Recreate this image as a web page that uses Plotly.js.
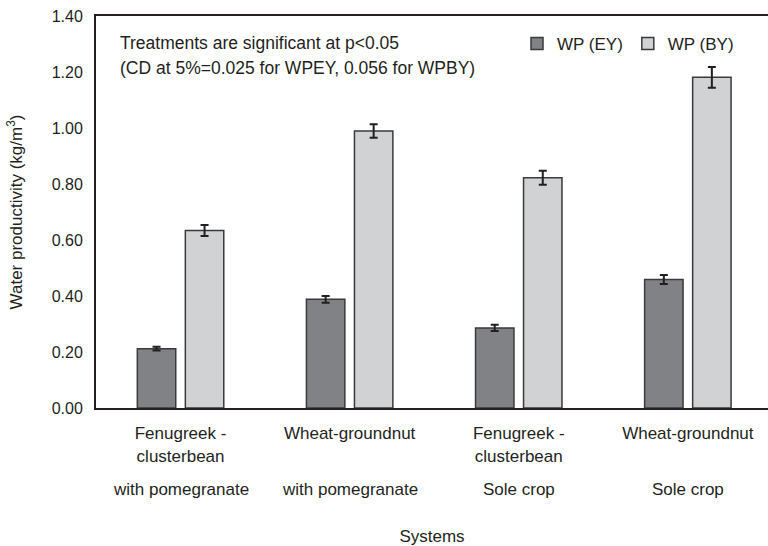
<!DOCTYPE html>
<html>
<head>
<meta charset="utf-8">
<script src="https://cdn.plot.ly/plotly-3.0.1.min.js"></script>
<style>html,body{margin:0;padding:0;background:#fff;}#chart{width:768px;height:546px;}</style>
</head>
<body>
<div id="chart"></div>
<script>
// Data
const categories = [0, 1, 2, 3];
const tickLines = ["Fenugreek -<br>clusterbean", "Wheat-groundnut", "Fenugreek -<br>clusterbean", "Wheat-groundnut"];
const systemLines = ["with pomegranate", "with pomegranate", "Sole crop", "Sole crop"];
const wpEY = [0.212, 0.388, 0.286, 0.459];
const wpEYErr = [0.007, 0.012, 0.011, 0.016];
const wpBY = [0.634, 0.989, 0.822, 1.181];
const wpBYErr = [0.020, 0.024, 0.025, 0.037];
const yTicks = [0, 0.2, 0.4, 0.6, 0.8, 1.0, 1.2, 1.4];

const FONT = "Liberation Sans, Arial, Helvetica, sans-serif";
const INK = "#231f20";

const traces = [
  {
    type: "bar", name: "WP (EY)", x: categories, y: wpEY,
    marker: {color: "#808285", line: {color: "#3a3a3a", width: 1.5}},
    error_y: {type: "data", array: wpEYErr, visible: true, color: INK, thickness: 2, width: 4}
  },
  {
    type: "bar", name: "WP (BY)", x: categories, y: wpBY,
    marker: {color: "#d1d2d4", line: {color: "#3a3a3a", width: 1.5}},
    error_y: {type: "data", array: wpBYErr, visible: true, color: INK, thickness: 2, width: 4}
  }
];

const annotations = systemLines.map((t, i) => ({
  text: t, xref: "x", x: categories[i], yref: "paper", y: 0,
  yanchor: "middle", xanchor: "center", yshift: -81.5, showarrow: false,
  font: {family: FONT, size: 17, color: INK}
}));
annotations.push({
  text: "Treatments are significant at p&lt;0.05", xref: "paper", yref: "paper",
  x: (118 - 96) / 672, y: (408 - 43) / 392, xanchor: "left", yanchor: "middle",
  showarrow: false, font: {family: FONT, size: 17.5, color: INK}
});
annotations.push({
  text: "(CD at 5%=0.025 for WPEY, 0.056 for WPBY)", xref: "paper", yref: "paper",
  x: (118 - 96) / 672, y: (408 - 68) / 392, xanchor: "left", yanchor: "middle",
  showarrow: false, font: {family: FONT, size: 17.5, color: INK}
});

const layout = {
  width: 768, height: 546,
  margin: {l: 96, r: 0, t: 16, b: 138, pad: 0},
  paper_bgcolor: "#fff", plot_bgcolor: "#fff",
  font: {family: FONT, size: 17, color: INK},
  barmode: "group", bargap: 0.432, bargroupgap: 0.2,
  showlegend: true,
  legend: {
    orientation: "h", x: (517 - 96) / 672, y: (408 - 44) / 392,
    xanchor: "left", yanchor: "middle", bgcolor: "rgba(0,0,0,0)",
    font: {family: FONT, size: 17, color: INK}, itemwidth: 30
  },
  xaxis: {
    range: [-0.5, 3.474], tickmode: "array", tickvals: categories, ticktext: tickLines,
    showline: true, mirror: true, linecolor: INK, linewidth: 2,
    showgrid: false, zeroline: false, ticks: "", ticklabelstandoff: 9,
    tickfont: {family: FONT, size: 17, color: INK},
    title: {text: "Systems", standoff: 72, font: {family: FONT, size: 17, color: INK}},
    automargin: false, fixedrange: true
  },
  yaxis: {
    range: [0, 1.4], tickmode: "array", tickvals: yTicks,
    tickformat: ".2f", showline: true, linecolor: INK, linewidth: 2,
    showgrid: false, zeroline: false, ticks: "", ticklabelstandoff: 8,
    tickfont: {family: FONT, size: 16, color: INK},
    title: {text: "Water productivity (kg/m<sup>3</sup>)", standoff: 25, font: {family: FONT, size: 17, color: INK}},
    automargin: false, fixedrange: true
  },
  annotations: annotations
};

Plotly.newPlot("chart", traces, layout, {staticPlot: true, displayModeBar: false});
</script>
</body>
</html>
